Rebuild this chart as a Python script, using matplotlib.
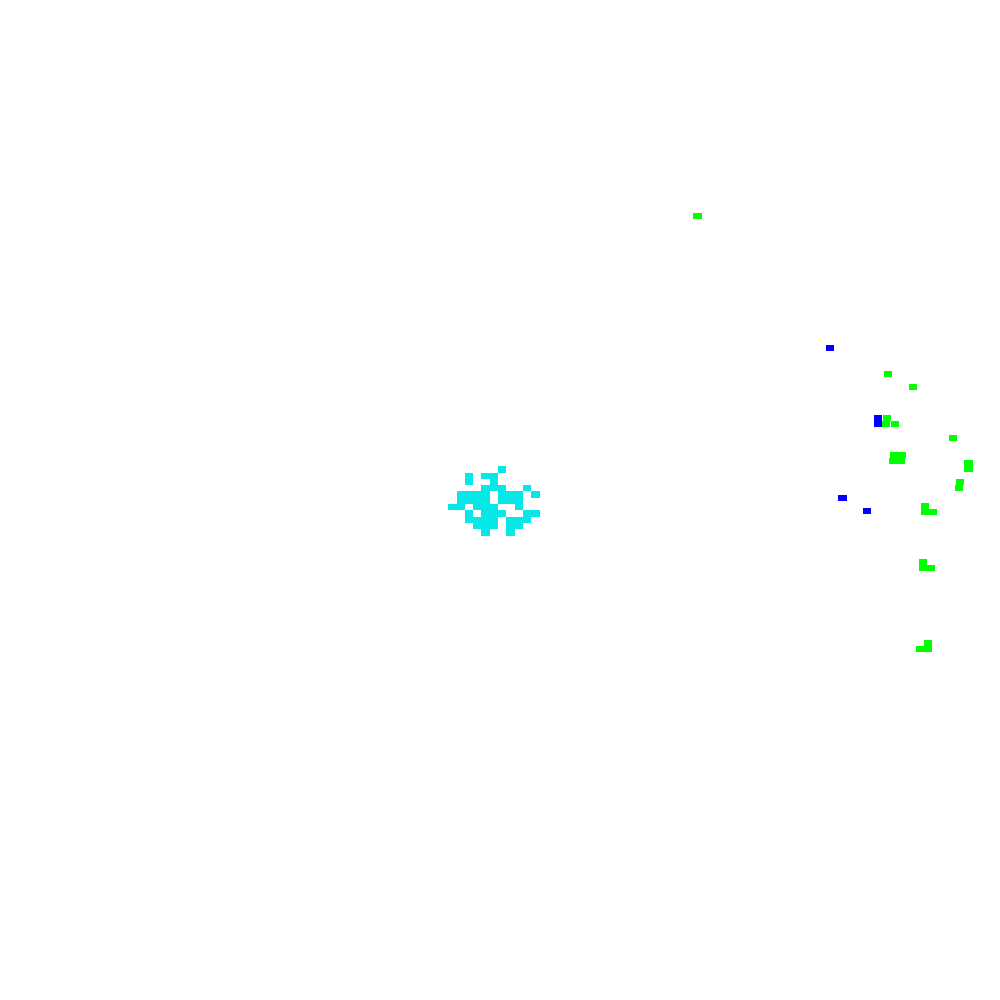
import numpy as np
import matplotlib
matplotlib.use("Agg")
import matplotlib.pyplot as plt

# cell grid units: one unit = one marker cell
x_max = 120.48
y_max = 158.73

# cyan cluster, integer cells (row -> columns)
cyan_rows = {
    74: [60],
    75: [56, 58, 59],
    76: [56, 59],
    77: [58, 59, 60, 63],
    78: [55, 56, 57, 58, 60, 61, 62, 64],
    79: [55, 56, 57, 58, 60, 61, 62],
    80: [54, 55, 57, 58, 59, 62],
    81: [56, 58, 59, 60, 63, 64],
    82: [56, 57, 58, 59, 61, 62, 63],
    83: [57, 58, 59, 61, 62],
    84: [58, 61],
}
cyan_x = [c for r in cyan_rows for c in cyan_rows[r]]
cyan_y = [r for r in cyan_rows for c in cyan_rows[r]]

# green points (top-left corner of each cell)
green_x = [83.53, 106.51, 109.52, 106.39, 106.27, 107.29, 114.34,
           107.23, 108.19, 107.11, 108.07, 116.20, 116.20, 115.12, 115.06,
           110.96, 110.96, 111.93, 110.72, 110.72, 111.69,
           111.33, 111.33, 110.36]
green_y = [33.81, 58.89, 60.95, 65.87, 66.83, 66.83, 69.05,
           71.75, 71.75, 72.70, 72.70, 73.02, 73.97, 76.03, 76.98,
           79.84, 80.79, 80.79, 88.73, 89.68, 89.68,
           101.59, 102.54, 102.54]

# blue points
blue_x = [99.52, 105.30, 105.30, 101.00, 103.98]
blue_y = [54.76, 65.87, 66.83, 78.57, 80.63]


def draw_cells(ax, xs, ys, color):
    ax.bar(xs, 1, width=1, bottom=ys, align='edge', color=color,
           linewidth=0, antialiased=False)


fig = plt.figure(figsize=(10, 10), dpi=100)
ax = fig.add_axes([0, 0, 1, 1])
ax.axis('off')

draw_cells(ax, cyan_x, cyan_y, '#04e8e8')
draw_cells(ax, blue_x, blue_y, '#0000ff')
draw_cells(ax, green_x, green_y, '#00ff00')

ax.set_xlim(0, x_max)
ax.set_ylim(y_max, 0)

fig.savefig('out.png', dpi=100, facecolor='white')
